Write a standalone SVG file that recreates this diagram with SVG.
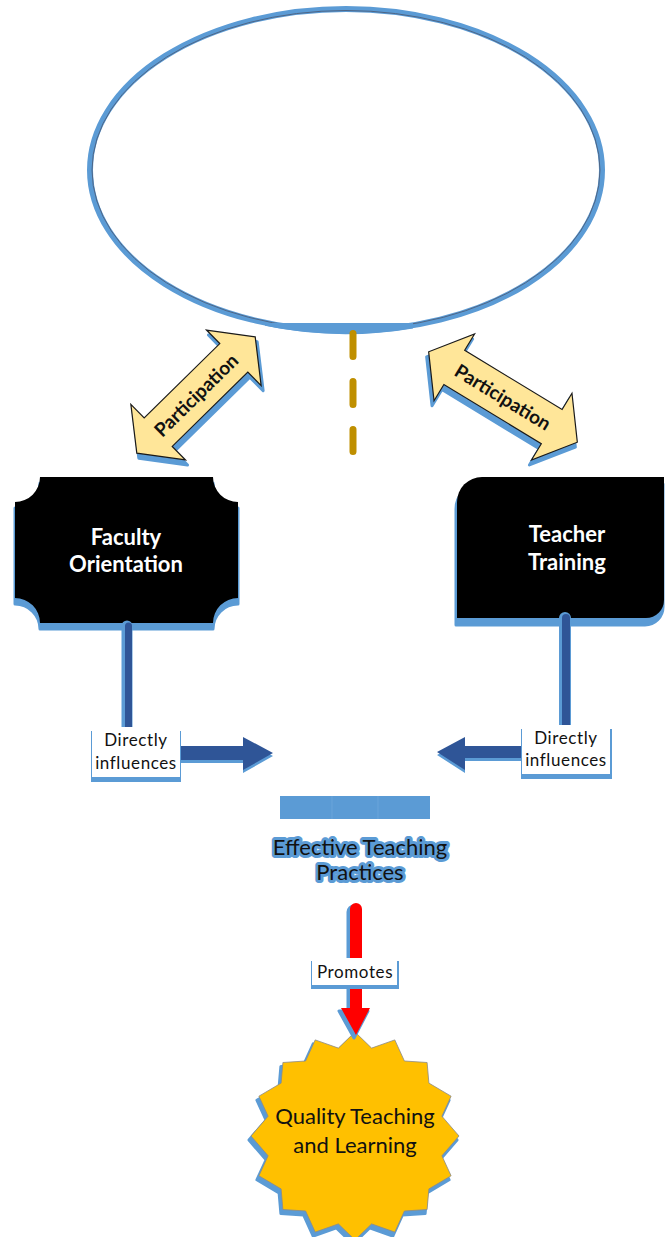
<svg xmlns="http://www.w3.org/2000/svg" width="665" height="1237" viewBox="0 0 665 1237">
<style>
.txt{font-family:"Lato","Carlito","Liberation Sans",sans-serif}
.shadow{fill:#5b9bd5;stroke:#5b9bd5;stroke-width:3;stroke-linejoin:round}
.part{fill:#ffe699;stroke:#1a1a1a;stroke-width:1.2;stroke-linejoin:miter}
.partlbl{font-family:"Lato","Carlito","Liberation Sans",sans-serif;font-weight:bold;font-size:19px;fill:#111;text-anchor:middle}
.boxlbl{font-family:"Lato","Carlito","Liberation Sans",sans-serif;font-weight:bold;font-size:22px;fill:#fff;text-anchor:middle}
.small{font-family:"Lato","Carlito","Liberation Sans",sans-serif;font-size:17px;fill:#111;text-anchor:middle;letter-spacing:0.6px}
.big{font-family:"Lato","Carlito","Liberation Sans",sans-serif;font-size:22px;fill:#111;text-anchor:middle}
.glow{stroke:#5b9bd5;stroke-width:6;stroke-linejoin:round;paint-order:stroke}
.dark{fill:#2f5597}
.lbox{fill:#fff}
.lshadow{fill:#5b9bd5}
</style>

<!-- Top ellipse node -->
<g id="node-top-ellipse">
  <ellipse cx="346" cy="170" rx="256" ry="161" fill="none" stroke="#5b9bd5" stroke-width="6"/>
  <ellipse cx="346" cy="170" rx="254" ry="159.5" fill="none" stroke="#4e6585" stroke-width="1"/>
  <path d="M265,323 L413,323 L413,328.4 A259 164 0 0 1 265,325.8 Z" fill="#5b9bd5"/>
</g>

<!-- Faculty Orientation -->
<g id="node-faculty-orientation">
  <path class="shadow" transform="translate(0,6)" d="M40,477 H213 A25 25 0 0 0 238,502 V598 A25 25 0 0 0 213,623 H40 A25 25 0 0 0 15,598 V502 A25 25 0 0 0 40,477 Z"/>
  <path fill="#000" d="M40,477 H213 A25 25 0 0 0 238,502 V598 A25 25 0 0 0 213,623 H40 A25 25 0 0 0 15,598 V502 A25 25 0 0 0 40,477 Z"/>
  <text class="boxlbl" x="126" y="545">Faculty</text>
  <text class="boxlbl" x="126" y="572">Orientation</text>
</g>

<!-- Teacher Training -->
<g id="node-teacher-training">
  <path class="shadow" transform="translate(-1,7)" d="M482,477 H664 V600 A18 18 0 0 1 646,618 H457 V502 A25 25 0 0 1 482,477 Z"/>
  <path fill="#000" d="M482,477 H664 V600 A18 18 0 0 1 646,618 H457 V502 A25 25 0 0 1 482,477 Z"/>
  <text class="boxlbl" x="567" y="542">Teacher</text>
  <text class="boxlbl" x="567" y="570">Training</text>
</g>

<!-- Effective Teaching Practices -->
<g id="node-effective-teaching">
  <rect x="280" y="796" width="150" height="23" fill="#5b9bd5"/>
  <line x1="332" y1="796" x2="332" y2="819" stroke="#6aa4da" stroke-width="1"/>
  <line x1="378" y1="796" x2="378" y2="819" stroke="#6aa4da" stroke-width="1"/>
  <text class="big glow" x="360" y="855">Effective Teaching</text>
  <text class="big glow" x="360" y="880">Practices</text>
</g>

<!-- Quality Teaching and Learning -->
<g id="node-quality">
  <path class="shadow" transform="translate(-2,4)" d="M355.0,1032.0 L371.6,1048.1 L394.8,1039.9 L404.4,1061.0 L427.1,1062.5 L428.9,1083.1 L451.1,1096.2 L441.9,1116.2 L459.0,1136.0 L441.9,1155.8 L451.1,1175.8 L428.9,1188.9 L427.1,1209.5 L404.4,1211.0 L394.8,1232.1 L371.6,1223.9 L355.0,1240.0 L338.4,1223.9 L315.2,1232.1 L305.6,1211.0 L282.9,1209.5 L281.1,1188.9 L258.9,1175.8 L268.1,1155.8 L251.0,1136.0 L268.1,1116.2 L258.9,1096.2 L281.1,1083.1 L282.9,1062.5 L305.6,1061.0 L315.2,1039.9 L338.4,1048.1 Z"/>
  <path fill="#ffc000" stroke="#8a8a8a" stroke-width="0.8" d="M355.0,1032.0 L371.6,1048.1 L394.8,1039.9 L404.4,1061.0 L427.1,1062.5 L428.9,1083.1 L451.1,1096.2 L441.9,1116.2 L459.0,1136.0 L441.9,1155.8 L451.1,1175.8 L428.9,1188.9 L427.1,1209.5 L404.4,1211.0 L394.8,1232.1 L371.6,1223.9 L355.0,1240.0 L338.4,1223.9 L315.2,1232.1 L305.6,1211.0 L282.9,1209.5 L281.1,1188.9 L258.9,1175.8 L268.1,1155.8 L251.0,1136.0 L268.1,1116.2 L258.9,1096.2 L281.1,1083.1 L282.9,1062.5 L305.6,1061.0 L315.2,1039.9 L338.4,1048.1 Z"/>
  <text class="big" x="355" y="1124">Quality Teaching</text>
  <text class="big" x="355" y="1153">and Learning</text>
</g>

<!-- Connectors -->
<g id="connectors">
  <!-- dashed gold line from ellipse -->
  <line x1="353" y1="333.5" x2="353" y2="451.5" stroke="#bf8f00" stroke-width="7" stroke-linecap="round" stroke-dasharray="23 25"/>

  <!-- Participation left -->
  <g id="conn-participation-left">
    <g transform="translate(2,5)">
      <path class="shadow" transform="translate(196,395) rotate(-44.5)" d="M83,0 L53,-39 L53,-20 L-53,-20 L-53,-39 L-83,0 L-53,39 L-53,20 L53,20 L53,39 Z"/>
    </g>
    <path class="part" transform="translate(196,395) rotate(-44.5)" d="M83,0 L53,-39 L53,-20 L-53,-20 L-53,-39 L-83,0 L-53,39 L-53,20 L53,20 L53,39 Z"/>
    <text class="partlbl" transform="translate(196,395) rotate(-44.5)" y="7">Participation</text>
  </g>

  <!-- Participation right -->
  <g id="conn-participation-right">
    <g transform="translate(-2,5)">
      <path class="shadow" transform="translate(503,397) rotate(31.3)" d="M87,0 L57,-39 L57,-20 L-57,-20 L-57,-39 L-87,0 L-57,39 L-57,20 L57,20 L57,39 Z"/>
    </g>
    <path class="part" transform="translate(503,397) rotate(31.3)" d="M87,0 L57,-39 L57,-20 L-57,-20 L-57,-39 L-87,0 L-57,39 L-57,20 L57,20 L57,39 Z"/>
    <text class="partlbl" transform="translate(503,397) rotate(31.3)" y="7">Participation</text>
  </g>

  <!-- Faculty -> Effective -->
  <g id="conn-faculty-effective">
    <line x1="127" y1="626" x2="127" y2="728" stroke="#5b9bd5" stroke-width="11" stroke-linecap="round"/>
    <line x1="128.5" y1="626" x2="128.5" y2="728" stroke="#2f5597" stroke-width="7" stroke-linecap="round"/>
    <path fill="#5b9bd5" transform="translate(0,3)" d="M180,746 H243 V737 L273,753 L243,770 V760 H180 Z"/>
    <path class="dark" d="M180,746 H243 V737 L273,753 L243,770 V760 H180 Z"/>
  </g>

  <!-- Teacher -> Effective -->
  <g id="conn-teacher-effective">
    <line x1="565" y1="618" x2="565" y2="726" stroke="#5b9bd5" stroke-width="12" stroke-linecap="round"/>
    <line x1="566" y1="618" x2="566" y2="726" stroke="#2f5597" stroke-width="8" stroke-linecap="round"/>
    <path fill="#5b9bd5" transform="translate(0,3)" d="M522,746 H465 V737 L437,752 L465,770 V758 H522 Z"/>
    <path class="dark" d="M522,746 H465 V737 L437,752 L465,770 V758 H522 Z"/>
  </g>

  <!-- Effective -> Quality -->
  <g id="conn-effective-quality">
    <g transform="translate(-2,3)">
      <path class="shadow" d="M350,1008 V909 A6 6 0 0 1 362,909 V1008 H370 L356,1035 L341,1008 Z"/>
    </g>
    <path fill="#ff0000" d="M350,1008 V909 A6 6 0 0 1 362,909 V1008 H370 L356,1035 L341,1008 Z"/>
  </g>
</g>

<!-- Connector labels -->
<g id="labels">
  <g id="label-directly-left">
    <rect class="lshadow" x="91" y="731" width="90" height="51"/>
    <rect class="lbox" x="92" y="727" width="88" height="50"/>
    <text class="small" x="136" y="746">Directly</text>
    <text class="small" x="136" y="769">influences</text>
  </g>
  <g id="label-directly-right">
    <rect class="lshadow" x="521" y="729" width="91" height="50"/>
    <rect class="lbox" x="522" y="725" width="88" height="49"/>
    <text class="small" x="566" y="744">Directly</text>
    <text class="small" x="566" y="766">influences</text>
  </g>
  <g id="label-promotes">
    <rect class="lshadow" x="311" y="961" width="88" height="28"/>
    <rect class="lbox" x="312" y="958" width="85" height="27"/>
    <text class="small" x="355" y="978">Promotes</text>
  </g>
</g>
</svg>
